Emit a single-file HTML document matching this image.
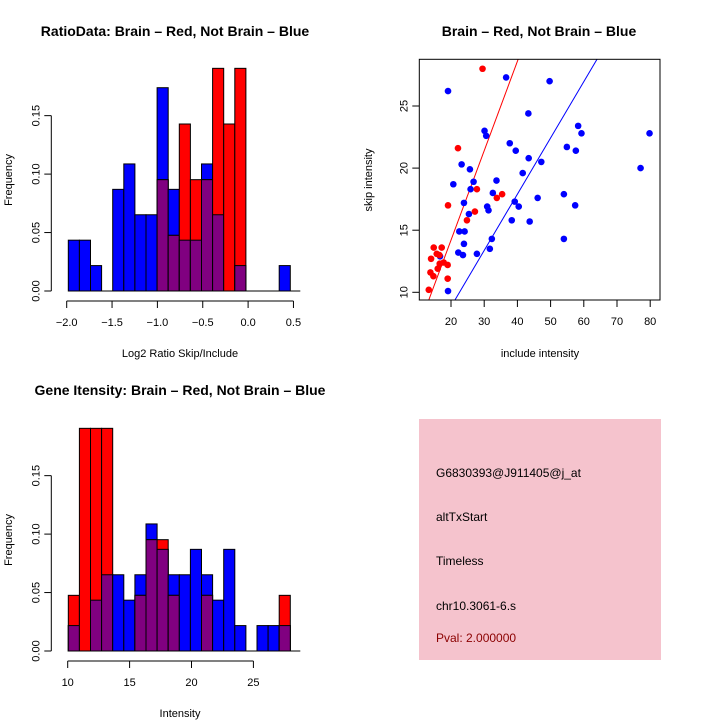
<!DOCTYPE html>
<html><head><meta charset="utf-8"><style>
body{margin:0;background:#fff}
svg{display:block;font-family:"Liberation Sans",Arial,sans-serif}
</style></head><body>
<svg id="s" width="720" height="720" viewBox="0 0 720 720">
<rect width="720" height="720" fill="#fff"/>
<text x="175" y="36" font-size="14" font-weight="bold" text-anchor="middle">RatioData: Brain – Red, Not Brain – Blue</text>
<text x="539" y="36" font-size="14" font-weight="bold" text-anchor="middle">Brain – Red, Not Brain – Blue</text>
<text x="180" y="395" font-size="14" font-weight="bold" text-anchor="middle">Gene Itensity: Brain – Red, Not Brain – Blue</text>
<g id="p1"></g>
<g id="p2"></g>
<g id="p3"></g>
<g>
<rect x="419" y="419" width="242" height="241" fill="#f5c3cd"/>
<text x="436" y="477" font-size="12">G6830393@J911405@j_at</text>
<text x="436" y="521" font-size="12">altTxStart</text>
<text x="436" y="565" font-size="12">Timeless</text>
<text x="436" y="610" font-size="12">chr10.3061-6.s</text>
<text x="436" y="642" font-size="12" fill="#8b0000">Pval: 2.000000</text>
</g>
</svg>
<script>
// Ratio histogram data (counts; blue n=46, red n=21)
const ratioBlue=[2,2,1,0,4,5,3,3,8,4,2,2,5,3,0,1,0,0,0,1];
const ratioRed=[0,0,0,0,0,0,0,0,2,1,3,2,2,4,3,4,0,0,0,0];
const ratioXTicks=[-2.0,-1.5,-1.0,-0.5,0.0,0.5];
const ratioXLabels=["−2.0","−1.5","−1.0","−0.5","0.0","0.5"];
// Intensity histogram data
const intBlue=[1,0,2,3,3,2,3,5,4,3,3,4,3,2,4,1,0,1,1,1];
const intRed=[1,4,4,4,0,0,1,2,2,1,0,0,1,0,0,0,0,0,0,1];
const intXTicks=[10,15,20,25];
const yTicks=[0,0.05,0.10,0.15];
const yLabels=["0.00","0.05","0.10","0.15"];
// Scatter data
const redX=[29.5,22.1,27.8,33.8,35.4,19.1,27.2,24.8,14.8,17.2,14.0,15.7,16.5,17.8,19.0,16.0,16.6,13.8,14.7,19.0,13.3];
const redY=[28.0,21.6,18.3,17.6,17.9,17.0,16.5,15.8,13.6,13.6,12.7,13.1,13.0,12.4,12.2,11.9,12.3,11.6,11.3,11.1,10.2];
const blueX=[36.6,49.7,19.1,43.3,58.3,59.3,79.8,30.1,30.6,37.7,39.5,54.9,57.6,43.4,47.2,23.2,25.7,77.1,41.6,26.8,33.7,20.7,25.9,32.6,46.1,54.0,23.9,39.2,40.4,57.4,30.9,31.3,25.4,38.3,43.7,22.5,24.1,32.3,54.0,23.9,16.7,22.2,23.6,27.8,31.7,19.1];
const blueY=[27.3,27.0,26.2,24.4,23.4,22.8,22.8,23.0,22.6,22.0,21.4,21.7,21.4,20.8,20.5,20.3,19.9,20.0,19.6,18.9,19.0,18.7,18.3,18.0,17.6,17.9,17.2,17.3,16.9,17.0,16.9,16.6,16.3,15.8,15.7,14.9,14.9,14.3,14.3,13.9,12.9,13.2,13.0,13.1,13.5,10.1];
const redLine=[0.72,-0.2];
const blueLine=[0.453,-0.22];
const scXTicks=[20,30,40,50,60,70,80];
const scYTicks=[10,15,20,25];

const NS="http://www.w3.org/2000/svg";
function mk(p,t,a){const e=document.createElementNS(NS,t);for(const k in a)e.setAttribute(k,a[k]);p.appendChild(e);return e;}

function hist(g,blue,red,x0,binW,y0,xScale,xTicks,xLabels,xTitle){
  const yS=v=>y0-v*1169;
  const bx=i=>x0+i*binW;
  for(let i=0;i<blue.length;i++){
    const b=blue[i]/46,r=red[i]/21,m=Math.min(b,r);
    if(b>0){const e=mk(g,'rect',{x:bx(i),y:yS(b),width:binW,height:y0-yS(b),fill:'#0000ff',stroke:'#000','stroke-width':1});
      
      }
    if(r>0){const e=mk(g,'rect',{x:bx(i),y:yS(r),width:binW,height:y0-yS(r),fill:'#ff0000',stroke:'#000','stroke-width':1});
      
      }
    if(m>0){const e=mk(g,'rect',{x:bx(i),y:yS(m),width:binW,height:y0-yS(m),fill:'#800080',stroke:'#000','stroke-width':1});
      
      }
  }
  mk(g,'line',{x1:bx(0),y1:y0,x2:x0+232,y2:y0,stroke:'#000'});
  // y axis
  const yl=x0-17;
  mk(g,'line',{x1:yl,y1:yS(0),x2:yl,y2:yS(0.15),stroke:'#000'});
  yTicks.forEach((v,i)=>{mk(g,'line',{x1:yl,y1:yS(v),x2:yl-7,y2:yS(v),stroke:'#000'});
    const t=mk(g,'text',{x:0,y:0,'font-size':11,'text-anchor':'middle',transform:`translate(${yl-12},${yS(v)}) rotate(-90)`});t.textContent=yLabels[i];
    
    });
  const yt=mk(g,'text',{x:0,y:0,'font-size':11,'text-anchor':'middle',transform:`translate(12,${yS(0.095)}) rotate(-90)`});yt.textContent='Frequency';
  
  
  const ay=y0+10;
  mk(g,'line',{x1:xScale(xTicks[0]),y1:ay,x2:xScale(xTicks[xTicks.length-1]),y2:ay,stroke:'#000'});
  xTicks.forEach((v,i)=>{mk(g,'line',{x1:xScale(v),y1:ay,x2:xScale(v),y2:ay+7,stroke:'#000'});
    const t=mk(g,'text',{x:xScale(v),y:ay+25,'font-size':11,'text-anchor':'middle'});t.textContent=xLabels[i];
    
    });
  const xt=mk(g,'text',{x:180,y:y0+66,'font-size':11,'text-anchor':'middle'});xt.textContent=xTitle;
  
  
}
hist(document.getElementById('p1'),ratioBlue,ratioRed,68.3,11.1,291,v=>66.7+(v+2)*90.7,ratioXTicks,ratioXLabels,'Log2 Ratio Skip/Include');
hist(document.getElementById('p3'),intBlue,intRed,68.3,11.1,651,v=>67.7+(v-10)*12.38,intXTicks,intXTicks.map(String),'Intensity');

// scatter
(function(){
  const g=document.getElementById('p2');
  const L=419.3,R=660,T=59.3,B=300;
  const xs=v=>451+(v-20)*3.32, ys=v=>292.3-(v-10)*12.42;
  const cp=mk(g,'clipPath',{id:'clip'});mk(cp,'rect',{x:L,y:T,width:R-L,height:B-T});
  const lg=mk(g,'g',{'clip-path':'url(#clip)'});
  [[redLine,'#ff0000','red-fit-line'],[blueLine,'#0000ff','blue-fit-line']].forEach(([c,col,n])=>{
    const xa=0,xb=100;const e=mk(lg,'line',{x1:xs(xa),y1:ys(c[0]*xa+c[1]),x2:xs(xb),y2:ys(c[0]*xb+c[1]),stroke:col,'stroke-width':1});
    
    });
  blueX.forEach((x,i)=>{const e=mk(g,'circle',{cx:xs(x),cy:ys(blueY[i]),r:3.3,fill:'#0000ff'});
    
    });
  redX.forEach((x,i)=>{const e=mk(g,'circle',{cx:xs(x),cy:ys(redY[i]),r:3.3,fill:'#ff0000'});
    
    });
  mk(g,'rect',{x:L,y:T,width:R-L,height:B-T,fill:'none',stroke:'#000'});
  scXTicks.forEach(v=>{mk(g,'line',{x1:xs(v),y1:B,x2:xs(v),y2:B+7,stroke:'#000'});
    const t=mk(g,'text',{x:xs(v),y:B+25,'font-size':11,'text-anchor':'middle'});t.textContent=v;
    
    });
  scYTicks.forEach(v=>{mk(g,'line',{x1:L,y1:ys(v),x2:L-7,y2:ys(v),stroke:'#000'});
    const t=mk(g,'text',{x:0,y:0,'font-size':11,'text-anchor':'middle',transform:`translate(${L-12},${ys(v)}) rotate(-90)`});t.textContent=v;
    
    });
  const xt=mk(g,'text',{x:540,y:357,'font-size':11,'text-anchor':'middle'});xt.textContent='include intensity';
  
  
  const yt=mk(g,'text',{x:0,y:0,'font-size':11,'text-anchor':'middle',transform:`translate(372,180) rotate(-90)`});yt.textContent='skip intensity';
  
  
})();
</script>
</body></html>
